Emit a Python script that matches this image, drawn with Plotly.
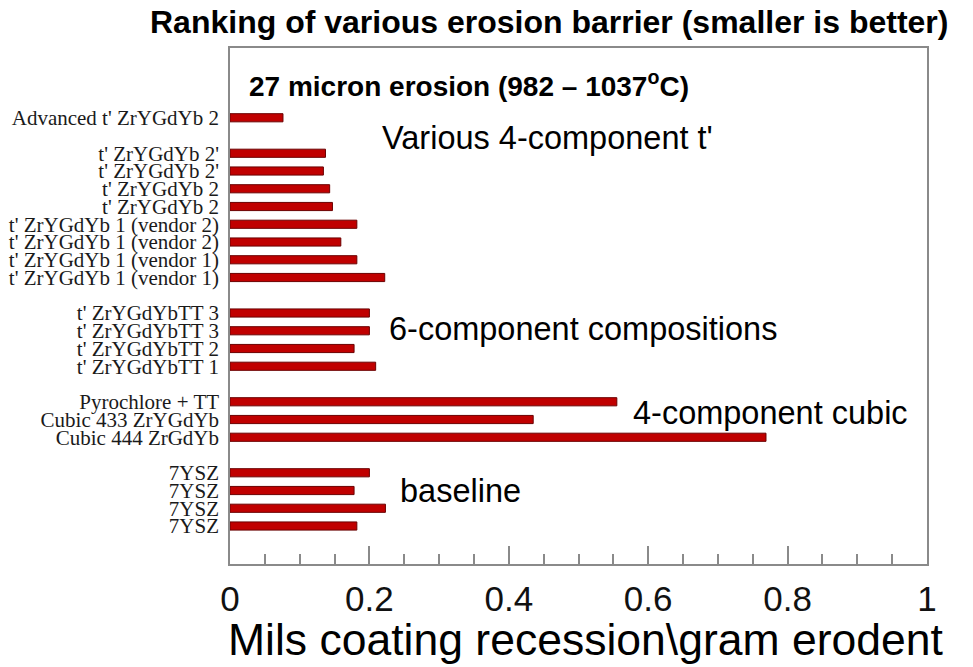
import plotly.graph_objects as go

# ---- data (top to bottom) ----
advanced_labels = ["Advanced t' ZrYGdYb 2"]
advanced_values = [0.076]

t4_labels = ["t' ZrYGdYb 2'", "t' ZrYGdYb 2'", "t' ZrYGdYb 2", "t' ZrYGdYb 2",
             "t' ZrYGdYb 1 (vendor 2)", "t' ZrYGdYb 1 (vendor 2)",
             "t' ZrYGdYb 1 (vendor 1)", "t' ZrYGdYb 1 (vendor 1)"]
t4_values = [0.137, 0.134, 0.143, 0.147, 0.182, 0.159, 0.182, 0.222]

six_labels = ["t' ZrYGdYbTT 3", "t' ZrYGdYbTT 3", "t' ZrYGdYbTT 2", "t' ZrYGdYbTT 1"]
six_values = [0.200, 0.200, 0.178, 0.209]

cubic_labels = ["Pyrochlore + TT", "Cubic 433 ZrYGdYb", "Cubic 444 ZrGdYb"]
cubic_values = [0.555, 0.435, 0.769]

base_labels = ["7YSZ", "7YSZ", "7YSZ", "7YSZ"]
base_values = [0.200, 0.178, 0.223, 0.182]

groups = [(advanced_labels, advanced_values), (t4_labels, t4_values),
          (six_labels, six_values), (cubic_labels, cubic_values),
          (base_labels, base_values)]

labels, values, ypos = [], [], []
slot = 0
for gl, gv in groups:
    for l, v in zip(gl, gv):
        labels.append(l)
        values.append(v)
        ypos.append(slot)
        slot += 1
    slot += 1  # empty slot between groups

fig = go.Figure(go.Bar(
    x=values, y=ypos, orientation="h", width=0.46,
    marker=dict(color="#C00000", line=dict(color="#6B0000", width=1)),
    hoverinfo="x",
))

# page body has an 8px margin; figure sized to fill the rest of the window
OFF = 8
W, H = 973 - OFF, 667 - OFF
L, R, T, B = 230 - OFF, 46, 48 - OFF, 667 - 564

axis_col = "#8a8a8a"
fig.update_layout(
    width=W, height=H,
    margin=dict(l=L, r=R, t=T, b=B, autoexpand=False),
    paper_bgcolor="white", plot_bgcolor="white",
    showlegend=False,
    font=dict(family="Liberation Sans, Arial, sans-serif", color="black"),
)
fig.update_xaxes(
    range=[0, 1], dtick=0.2, tick0=0, tickformat="~g",
    ticks="inside", ticklen=18, tickwidth=1.5, tickcolor=axis_col,
    minor=dict(dtick=0.05, ticks="inside", ticklen=10, tickwidth=1.5, tickcolor=axis_col),
    showline=True, linecolor=axis_col, linewidth=1.5, mirror=True,
    showgrid=False, zeroline=False, automargin=False,
    tickfont=dict(size=35, family="Liberation Sans, Arial, sans-serif", color="#111"),
    ticklabelstandoff=3,
)
fig.update_yaxes(
    range=[25.14, -3.93],
    tickvals=ypos, ticktext=labels, ticks="", ticklabelstandoff=5,
    showline=True, linecolor=axis_col, linewidth=1.5, mirror=True,
    showgrid=False, zeroline=False, automargin=False,
    tickfont=dict(size=21, family="Liberation Serif, Times New Roman, serif", color="#1a1a1a"),
)

# positions in window pixels (from top-left)
ann = [
    dict(text="<b>Ranking of various erosion barrier (smaller is better)</b>",
         x=549, y=22.5, font=dict(size=32)),
    dict(text="<b>27 micron erosion (982 – 1037<sup>o</sup>C)</b>",
         x=247, y=83.5, xanchor="left", font=dict(size=28)),
    dict(text="Various 4-component t'", x=380, y=138, xanchor="left", font=dict(size=32.5)),
    dict(text="6-component compositions", x=387, y=329, xanchor="left", font=dict(size=32.5)),
    dict(text="4-component cubic", x=631, y=413, xanchor="left", font=dict(size=32.5)),
    dict(text="baseline", x=398, y=491, xanchor="left", font=dict(size=32.5)),
    dict(text="Mils coating recession\\gram erodent", x=585, y=639.5, font=dict(size=44.5)),
]
PW, PH = W - L - R, H - T - B
for a in ann:
    a.update(xref="paper", yref="paper", showarrow=False)
    a.setdefault("xanchor", "center")
    a["yanchor"] = "middle"
    fx, fy = a["x"] - OFF, a["y"] - OFF
    a["x"] = (fx - L) / PW
    a["y"] = (H - B - fy) / PH
    fig.add_annotation(**a)

fig.write_html("out.html")
